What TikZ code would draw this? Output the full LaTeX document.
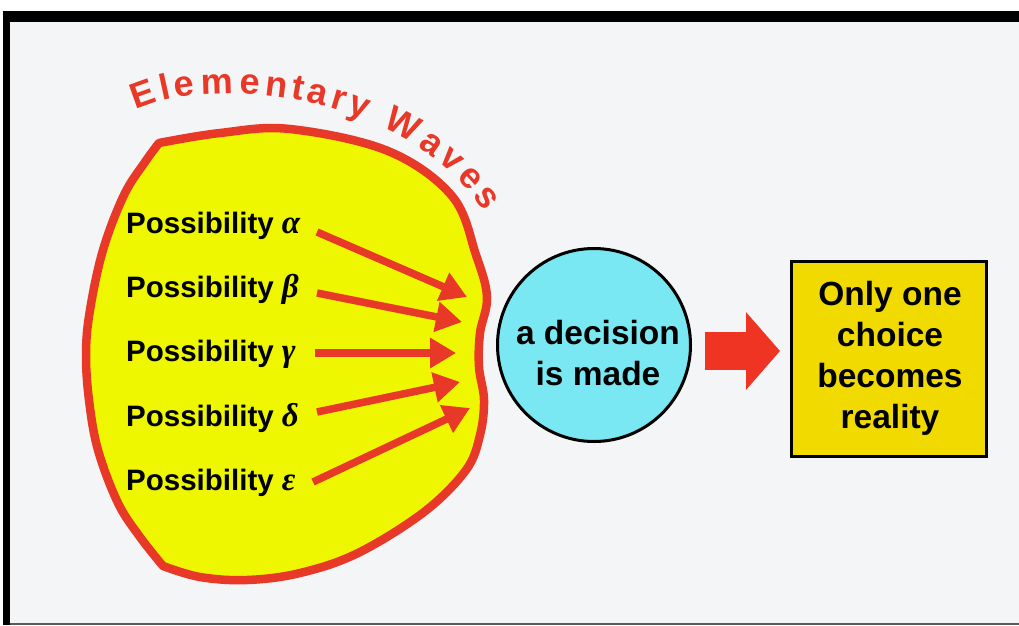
\documentclass[tikz,border=0pt]{standalone}
\usepackage{fontspec}
\setmainfont{Liberation Sans}
\newfontfamily\greekfont{Liberation Serif}
\usetikzlibrary{arrows.meta,decorations.text,calc}
\definecolor{blobred}{RGB}{232,56,40}
\definecolor{blobyellow}{RGB}{238,247,0}
\definecolor{deccyan}{RGB}{122,232,242}
\definecolor{boxgold}{RGB}{240,218,0}
\definecolor{bggray}{RGB}{244,245,247}
\definecolor{bigred}{RGB}{240,52,36}
\definecolor{edgegray}{RGB}{90,90,90}
\newcommand\ewfont{\fontsize{36}{36}\selectfont\bfseries}
\newcommand\gk[1]{{\greekfont\bfseries\itshape\fontsize{33}{33}\selectfont #1}}
\tikzset{
  blob/.style={draw=blobred, fill=blobyellow, line width=8.5pt, line join=round},
  poss/.style={font=\fontsize{29.5}{31}\selectfont\bfseries, inner sep=0pt, anchor=base west},
  possarrow/.style={color=blobred, line width=7.5pt, -{Triangle[length=26pt,width=29pt]}},
  decision/.style={circle, draw=black, line width=3pt, fill=deccyan, minimum size=193pt, inner sep=0pt},
  bodytext/.style={font=\fontsize{33.5}{41}\selectfont\bfseries, align=center, inner sep=0pt},
  resultbox/.style={draw=black, line width=3pt, fill=boxgold, minimum width=195pt, minimum height=195pt, inner sep=0pt},
  bigarrow/.style={color=bigred, line width=38pt, -{Triangle[length=34pt,width=76pt]}}
}
\begin{document}
\begin{tikzpicture}[x=1pt,y=-1pt]
\useasboundingbox (0,0) rectangle (1019,625);
\fill[white] (0,0) rectangle (1019,625);
\fill[black] (3,11) rectangle (1019,625);
\fill[edgegray] (10,22) rectangle (1019,625);
\fill[bggray] (10,22) rectangle (1019,623);

% blob
\path[blob] plot[smooth, tension=0.6] coordinates {(159,143) (220,133) (290,129) (388,151) (452,196) (476,255) (487,297) (480,333) (479,367) (484,400) (480,435) (466,470) (424,512) (358,553) (300,573) (247,580) (200,577) (163,566)}
  -- plot[smooth, tension=0.6] coordinates {(163,566) (140,537) (118,503) (98,450) (89,400) (86,353) (90,310) (103,250) (124,195) (145,162) (159,143)} -- cycle;

% curved title
\path[decorate, decoration={text effects along path, text={Elementary Waves},
    text effects/.cd, text along path, fit text to path,
    every character/.style={font=\ewfont, text=blobred}}]
  (136,110) .. controls (200,78) and (400,84) .. (484,212);

% labels
\node[poss] (p1) at (126,233) {Possibility \gk{α}};
\node[poss] (p2) at (126,297) {Possibility \gk{β}};
\node[poss] (p3) at (126,361) {Possibility \gk{γ}};
\node[poss] (p4) at (126,426) {Possibility \gk{δ}};
\node[poss] (p5) at (126,490) {Possibility \gk{ε}};

\coordinate (s1) at (317,232); \coordinate (t1) at (467,297);
\coordinate (s2) at (317,293); \coordinate (t2) at (462,322);
\coordinate (s3) at (315,353); \coordinate (t3) at (456,353);
\coordinate (s4) at (317,412); \coordinate (t4) at (460,382);
\coordinate (s5) at (313,482); \coordinate (t5) at (470,408);
\foreach \i in {1,...,5} { \draw[possarrow] (s\i) -- (t\i); }

% decision circle
\node[decision] (dec) at (594,345) {};
\node[bodytext] (dect) at ($(dec.center)+(4,8)$) {a decision\\is made};

% result box
\node[resultbox] (box) at (889,359) {};
\node[bodytext] (boxt) at ($(box.center)+(1,-1)$) {Only one\\choice\\becomes\\reality};

% big arrow
\coordinate (ba1) at ($(dec.east)+(13,6)$);
\coordinate (ba2) at ($(box.west)+(-10,-8)$);
\draw[bigarrow] (ba1) -- (ba2);
\end{tikzpicture}
\end{document}
